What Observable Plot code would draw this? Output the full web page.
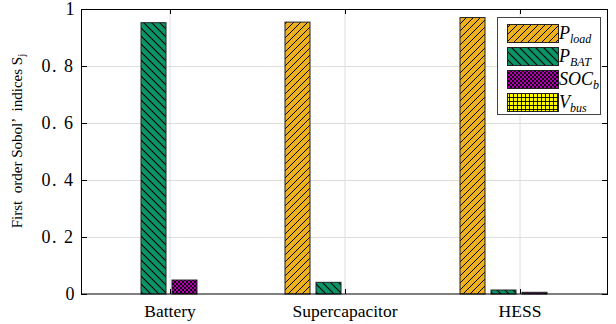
<!DOCTYPE html>
<html><head><meta charset="utf-8">
<script src="https://cdn.jsdelivr.net/npm/d3@7"></script>
<script src="https://cdn.jsdelivr.net/npm/@observablehq/plot@0.6"></script>
<style>
body{margin:0;background:#fff;}
#chart svg{display:block;}
#chart svg text{font-family:'Liberation Serif','Times New Roman',serif !important;}
</style>
</head><body><div id="chart"></div>
<script>
const categories = ["Battery", "Supercapacitor", "HESS"];
const series = ["Pload", "PBAT", "SOCb", "Vbus"];
const batteryValues = [0, 0.952, 0.049, 0];
const supercapValues = [0.954, 0.041, 0, 0];
const hessValues = [0.970, 0.014, 0.006, 0];
const yTicks = [0, 0.2, 0.4, 0.6, 0.8, 1];
const legendMain = ["P", "P", "SOC", "V"];
const legendSub = ["load", "BAT", "b", "bus"];
const seriesColors = ["#EDB120", "#0A9468", "#B000B0", "#FFFF00"];

const valuesByCategory = [batteryValues, supercapValues, hessValues];
const data = categories.flatMap((c, i) => series.map((s, j) => ({category: c, series: s, value: valuesByCategory[i][j]})));

const font = "'Liberation Serif', 'Times New Roman', serif";
const fmt = d => (d === 0 || d === 1) ? String(d) : d.toFixed(1).replace(".", ". ");

const chart = Plot.plot({
  width: 616, height: 324,
  marginLeft: 81, marginRight: 8, marginTop: 9, marginBottom: 30,
  style: {fontFamily: font, background: "white", color: "black"},
  fx: {domain: categories, padding: 0, axis: null, label: null},
  x: {domain: series, paddingInner: 0.19, paddingOuter: 0.84, axis: null},
  y: {domain: [0, 1], axis: null},
  color: {type: "identity"},
  marks: [
    Plot.gridY(yTicks.slice(1, -1), {stroke: "#dedede", strokeOpacity: 1}),
    Plot.barY(data, {fx: "category", x: "series", y: "value", fill: d => `url(#pat-${d.series})`, stroke: "#222", strokeWidth: 1}),
    Plot.axisY(yTicks, {tickSize: 0, tickPadding: 8, tickFormat: fmt, fontSize: 18, label: null}),
    Plot.axisFx({anchor: "bottom", tickSize: 0, tickPadding: 10, fontSize: 17.5, label: null})
  ]
});
document.getElementById("chart").appendChild(chart);

const svg = d3.select(chart);
const y = chart.scale("y"), fx = chart.scale("fx");
const x0 = fx.range[0], x1 = fx.range[1];
const yTop = y.apply(1), yBot = y.apply(0);
const cx = c => fx.apply(c) + fx.bandwidth / 2;

// patterns
const defs = svg.insert("defs", ":first-child");
function pat(id, size, color, paths, sw) {
  const p = defs.append("pattern").attr("id", id).attr("patternUnits", "userSpaceOnUse")
    .attr("width", size).attr("height", size);
  p.append("rect").attr("width", size).attr("height", size).attr("fill", color);
  p.append("path").attr("d", paths).attr("stroke", "#000").attr("stroke-width", sw).attr("fill", "none");
}
pat("pat-Pload", 7, seriesColors[0], "M0,7L7,0M-1,1L1,-1M6,8L8,6", 1);
pat("pat-PBAT", 8, seriesColors[1], "M0,0L8,8M-1,7L1,9M7,-1L9,1", 1.1);
pat("pat-SOCb", 4, seriesColors[2], "M0,4L4,0M-1,1L1,-1M3,5L5,3M0,0L4,4M-1,3L1,5M3,-1L5,1", 0.9);
pat("pat-Vbus", 4, seriesColors[3], "M0.5,0V4M0,0.5H4", 0.9);

// vertical grid lines (behind)
const vg = svg.insert("g", "defs + *").attr("stroke", "#dedede");
categories.forEach(c => vg.append("line").attr("x1", cx(c) + 0.5).attr("x2", cx(c) + 0.5).attr("y1", yTop).attr("y2", yBot));

// frame and inward ticks
const fr = svg.append("g").attr("stroke", "#000").attr("fill", "none").attr("stroke-width", 1);
fr.append("rect").attr("x", x0 + 0.5).attr("y", yTop + 0.5).attr("width", x1 - x0 - 1).attr("height", yBot - yTop - 0.5);
yTicks.forEach(t => {
  const yy = Math.round(y.apply(t)) + 0.5;
  fr.append("line").attr("x1", x0).attr("x2", x0 + 6).attr("y1", yy).attr("y2", yy);
  fr.append("line").attr("x1", x1).attr("x2", x1 - 6).attr("y1", yy).attr("y2", yy);
});
categories.forEach(c => {
  const xx = Math.round(cx(c)) + 0.5;
  fr.append("line").attr("x1", xx).attr("x2", xx).attr("y1", yBot).attr("y2", yBot - 5);
  fr.append("line").attr("x1", xx).attr("x2", xx).attr("y1", yTop).attr("y2", yTop + 5);
});

// y label
const yl = svg.append("text").attr("transform", `translate(22,141) rotate(-90)`)
  .attr("text-anchor", "middle").attr("font-family", font).attr("font-size", 15).attr("fill", "#000");
yl.append("tspan").text("First  order Sobol\u2019  indices S");
yl.append("tspan").attr("font-size", 11).attr("dy", 3).text("j");

// tick label spacing
svg.selectAll("text").filter(function(){ return /^0\. /.test(this.textContent); }).attr("letter-spacing", 1.5);

// legend
const lg = svg.append("g").attr("transform", "translate(497,17)");
lg.append("rect").attr("x", 0.5).attr("y", 0.5).attr("width", 103).attr("height", 97).attr("fill", "#fff").attr("stroke", "#444");
series.forEach((s, i) => {
  const yy = 7 + i * 23;
  lg.append("rect").attr("x", 10.5).attr("y", yy + 0.5).attr("width", 51).attr("height", 18)
    .attr("fill", `url(#pat-${s})`).attr("stroke", "#222");
  const t = lg.append("text").attr("x", 62).attr("y", yy + 15).attr("text-anchor", "start").attr("font-family", font)
    .attr("font-style", "italic").attr("font-size", 18).attr("fill", "#000");
  t.append("tspan").text(legendMain[i]);
  t.append("tspan").attr("font-size", 12).attr("dy", 4).text(legendSub[i]);
});
</script>
</body></html>
